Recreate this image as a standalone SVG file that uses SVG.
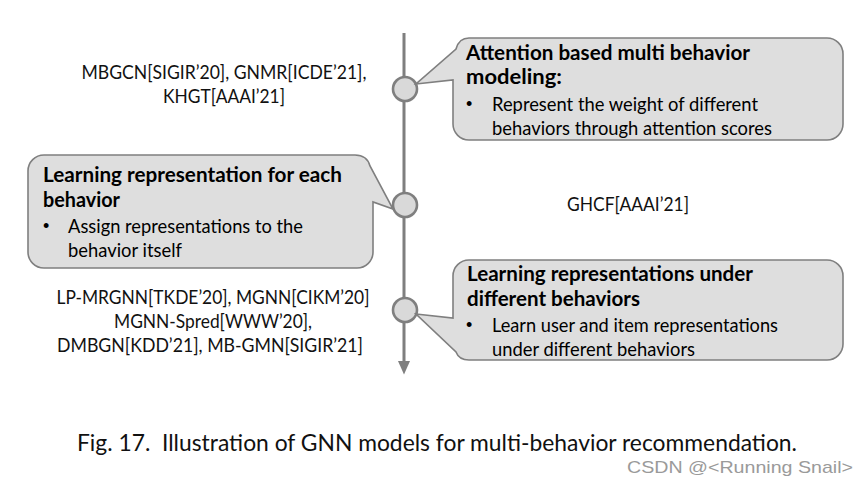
<svg xmlns="http://www.w3.org/2000/svg" width="868" height="484" viewBox="0 0 868 484">
<style>
.box{fill:#dedede;stroke:#7f7f7f;stroke-width:1.6}
.dot{fill:#d9d9d9;stroke:#7f7f7f;stroke-width:2.6}
.axis{stroke:#7f7f7f;stroke-width:3;fill:none}
.t{font-family:Lato,"Open Sans","Liberation Sans",sans-serif;font-size:20px;fill:#000}
.b{font-weight:bold}
.bu{font-family:"Liberation Sans",sans-serif;font-size:18px;fill:#000}
.lab{font-family:Lato,"Open Sans","Liberation Sans",sans-serif;font-size:19px;fill:#111;text-anchor:middle}
.cap{font-family:Lato,"Open Sans",sans-serif;font-size:23px;fill:#111}
.wm{font-family:"Liberation Sans",sans-serif;font-size:17px;fill:#9a9a9a}
</style>
<defs>
<marker id="ah" markerWidth="5" markerHeight="4" refX="1" refY="2" orient="auto" markerUnits="strokeWidth">
<path d="M0,0 L4.5,2 L0,4 Z" fill="#7f7f7f"/>
</marker>
</defs>
<rect width="868" height="484" fill="#ffffff"/>
<g id="connectors">
<line class="axis" x1="404" y1="33" x2="404" y2="364" marker-end="url(#ah)"/>
</g>
<g id="dot1"><circle class="dot" cx="405" cy="89" r="12"/></g>
<g id="dot2"><circle class="dot" cx="405" cy="205" r="12"/></g>
<g id="dot3"><circle class="dot" cx="405" cy="310" r="12"/></g>
<g id="callout1">
<path class="box" d="M469,38 H827 A16,16 0 0 1 843,54 V124 A16,16 0 0 1 827,140 H469 A16,16 0 0 1 453,124 V80 L416,84 L456,49 Q459,38 469,38 Z"/>
<text class="t b" x="466" y="60" textLength="284" lengthAdjust="spacingAndGlyphs">Attention based multi behavior</text>
<text class="t b" x="466" y="84" textLength="96" lengthAdjust="spacingAndGlyphs">modeling:</text>
<text class="bu" x="466" y="110">•</text>
<text class="t" x="492" y="111" textLength="266" lengthAdjust="spacingAndGlyphs">Represent the weight of different</text>
<text class="t" x="492" y="135" textLength="280" lengthAdjust="spacingAndGlyphs">behaviors through attention scores</text>
</g>
<g id="callout2">
<path class="box" d="M44,155 H355 Q367,155 370,166 L393,209 L373,202 V252 A16,16 0 0 1 357,268 H44 A16,16 0 0 1 28,252 V171 A16,16 0 0 1 44,155 Z"/>
<text class="t b" x="43" y="182" textLength="299" lengthAdjust="spacingAndGlyphs">Learning representation for each</text>
<text class="t b" x="43" y="207" textLength="77" lengthAdjust="spacingAndGlyphs">behavior</text>
<text class="bu" x="43" y="232">•</text>
<text class="t" x="68" y="233" textLength="235" lengthAdjust="spacingAndGlyphs">Assign representations to the</text>
<text class="t" x="68" y="257" textLength="114" lengthAdjust="spacingAndGlyphs">behavior itself</text>
</g>
<g id="callout3">
<path class="box" d="M469,260 H827 A16,16 0 0 1 843,276 V344 A16,16 0 0 1 827,360 H469 Q459,360 456,352 L416,314 L453,318 V276 A16,16 0 0 1 469,260 Z"/>
<text class="t b" x="467" y="281" textLength="286" lengthAdjust="spacingAndGlyphs">Learning representations under</text>
<text class="t b" x="467" y="306" textLength="173" lengthAdjust="spacingAndGlyphs">different behaviors</text>
<text class="bu" x="466" y="331">•</text>
<text class="t" x="492" y="332" textLength="286" lengthAdjust="spacingAndGlyphs">Learn user and item representations</text>
<text class="t" x="492" y="356" textLength="203" lengthAdjust="spacingAndGlyphs">under different behaviors</text>
</g>
<g id="label1">
<text class="lab" x="224" y="79" textLength="285" lengthAdjust="spacingAndGlyphs">MBGCN[SIGIR’20], GNMR[ICDE’21],</text>
<text class="lab" x="224" y="103" textLength="122" lengthAdjust="spacingAndGlyphs">KHGT[AAAI’21]</text>
</g>
<g id="label2">
<text class="lab" x="628" y="211" textLength="122" lengthAdjust="spacingAndGlyphs">GHCF[AAAI’21]</text>
</g>
<g id="label3">
<text class="lab" x="213" y="304" textLength="313" lengthAdjust="spacingAndGlyphs">LP-MRGNN[TKDE’20], MGNN[CIKM’20]</text>
<text class="lab" x="213" y="328" textLength="198" lengthAdjust="spacingAndGlyphs">MGNN-Spred[WWW’20],</text>
<text class="lab" x="210" y="352" textLength="306" lengthAdjust="spacingAndGlyphs">DMBGN[KDD’21], MB-GMN[SIGIR’21]</text>
</g>
<text class="cap" x="77" y="451" xml:space="preserve" textLength="720" lengthAdjust="spacingAndGlyphs">Fig. 17.  Illustration of GNN models for multi-behavior recommendation.</text>
<text class="wm" x="627" y="473" textLength="226" lengthAdjust="spacingAndGlyphs">CSDN @&lt;Running Snail&gt;</text>
</svg>
